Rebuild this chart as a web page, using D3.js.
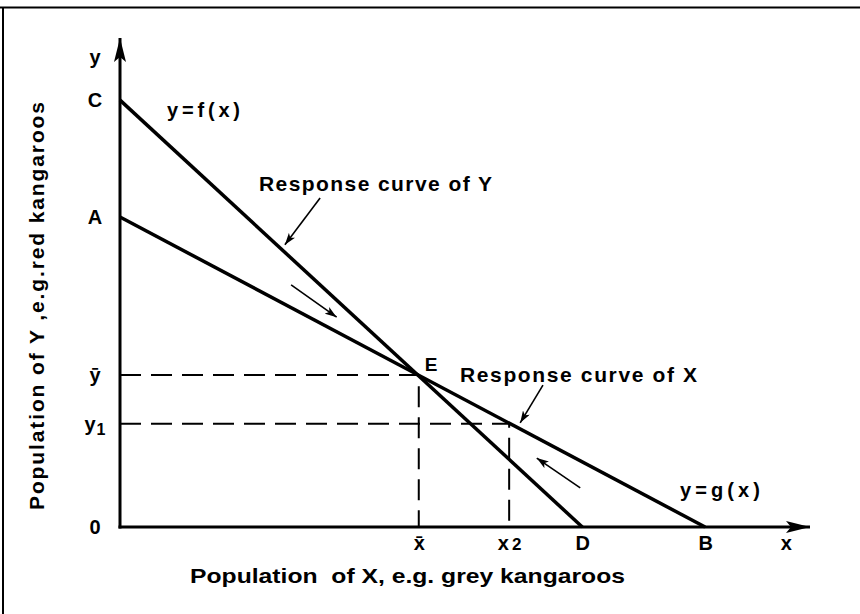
<!DOCTYPE html>
<html>
<head>
<meta charset="utf-8">
<script src="https://cdn.jsdelivr.net/npm/d3@7"></script>
<style>
  html, body { margin: 0; padding: 0; background: #fff; }
  svg { display: block; }
  text { font-family: "Liberation Sans", Arial, Helvetica, sans-serif; font-weight: bold; fill: #000; }
</style>
</head>
<body>
<svg id="chart" width="860" height="614"></svg>
<script>
// Axis extents, in arbitrary population units
const xMax = 100;
const yMax = 100;

// Response curves: y-intercept (C, A) and x-intercept (D, B)
const curveNames = ["Response curve of Y", "Response curve of X"];
const curveY0 = [87.3, 63.4];
const curveX0 = [67.0, 84.8];

// Equilibrium E and the displaced state (x2, y1)
const equilibrium = [43.3, 31.1];
const displaced = [56.4, 21.1];

// Tick labels along each axis (last entry is the axis name)
const xTickValues = [43.3, 56.4, 67.0, 84.8, 96.5];
const xTickLabels = ["x\u0304", "x2", "D", "B", "x"];
const yTickValues = [96.1, 87.3, 63.4, 31.1, 21.1, 0];
const yTickLabels = ["y", "C", "A", "y\u0304", "y1", "0"];

// Pointers from the curve names to their lines
const pointerFrom = [[29.0, 67.3], [61.3, 29.0]];
const pointerTo   = [[23.9, 57.7], [58.0, 21.3]];

// Arrows showing the direction of movement towards E
const flowFrom = [[24.8, 49.5], [66.7, 8.0]];
const flowTo   = [[31.4, 42.9], [60.4, 14.1]];

const svg = d3.select("#chart");
const x = d3.scaleLinear().domain([0, xMax]).range([120, 810]);
const y = d3.scaleLinear().domain([0, yMax]).range([527, 38]);

// Arrowhead markers
const defs = svg.append("defs");
defs.append("marker")
  .attr("id", "axisHead")
  .attr("viewBox", "0 0 24 12")
  .attr("refX", 24).attr("refY", 6)
  .attr("markerWidth", 24).attr("markerHeight", 12)
  .attr("markerUnits", "userSpaceOnUse")
  .attr("orient", "auto")
  .append("path").attr("d", "M0,0 L24,6 L0,12 L5,6 Z").attr("fill", "#000");
defs.append("marker")
  .attr("id", "smallHead")
  .attr("viewBox", "0 0 12 8")
  .attr("refX", 12).attr("refY", 4)
  .attr("markerWidth", 12).attr("markerHeight", 8)
  .attr("markerUnits", "userSpaceOnUse")
  .attr("orient", "auto")
  .append("path").attr("d", "M0,0 L12,4 L0,8 L3,4 Z").attr("fill", "#000");

// Frame (top and left edges)
svg.append("line").attr("x1", 0).attr("x2", 860).attr("y1", 7.5).attr("y2", 7.5)
  .attr("stroke", "#000").attr("stroke-width", 2);
svg.append("line").attr("x1", 3).attr("x2", 3).attr("y1", 7).attr("y2", 614)
  .attr("stroke", "#000").attr("stroke-width", 2);

// Dashed guides from E and from the displaced state
const guides = [
  [[0, equilibrium[1]], equilibrium, [equilibrium[0], 0]],
  [[0, displaced[1]], displaced, [displaced[0], 0]]
];
const guideLine = d3.line().x(d => x(d[0])).y(d => y(d[1]));
svg.append("g").selectAll("path").data(guides).join("path")
  .attr("d", guideLine)
  .attr("fill", "none").attr("stroke", "#000")
  .attr("stroke-width", 2).attr("stroke-dasharray", "21,10");

// Response curves
svg.append("g").selectAll("line").data(curveY0).join("line")
  .attr("x1", x(0)).attr("y1", (d) => y(d))
  .attr("x2", (d, i) => x(curveX0[i])).attr("y2", y(0))
  .attr("stroke", "#000").attr("stroke-width", 3.5);

// Axes with arrowheads
svg.append("line")
  .attr("x1", x(0) - 1.5).attr("y1", y(0)).attr("x2", x(xMax)).attr("y2", y(0))
  .attr("stroke", "#000").attr("stroke-width", 3).attr("marker-end", "url(#axisHead)");
svg.append("line")
  .attr("x1", x(0)).attr("y1", y(0) + 1.5).attr("x2", x(0)).attr("y2", y(yMax))
  .attr("stroke", "#000").attr("stroke-width", 3).attr("marker-end", "url(#axisHead)");

// Tick labels
function subscriptLabel(sel) {
  sel.each(function () {
    const t = d3.select(this);
    const s = t.text();
    if (/^[xy][12]$/.test(s)) {
      t.text(s[0]);
      t.append("tspan").attr("font-size", s[0] === "x" ? 17 : 16)
        .attr("dx", s[0] === "x" ? 3 : 1).attr("dy", s[0] === "x" ? 0 : 4).text(s[1]);
    }
  });
}
const xAxis = svg.append("g").attr("transform", `translate(0,${y(0)})`)
  .call(d3.axisBottom(x).tickValues(xTickValues)
    .tickFormat((d, i) => xTickLabels[i]).tickSize(0).tickPadding(9));
xAxis.select(".domain").remove();
xAxis.selectAll("text").attr("font-size", 20).attr("font-family", null).call(subscriptLabel);

const yAxis = svg.append("g").attr("transform", `translate(${x(0)},0)`)
  .call(d3.axisLeft(y).tickValues(yTickValues)
    .tickFormat((d, i) => yTickLabels[i]).tickSize(0));
yAxis.select(".domain").remove();
yAxis.selectAll("text").attr("font-size", 20).attr("font-family", null)
  .attr("text-anchor", "middle").attr("x", -25).call(subscriptLabel);
svg.selectAll(".tick text").attr("fill", "#000");

// Pointers and flow arrows
const arrows = [
  ...pointerFrom.map((p, i) => [p, pointerTo[i]]),
  ...flowFrom.map((p, i) => [p, flowTo[i]])
];
svg.append("g").selectAll("line").data(arrows).join("line")
  .attr("x1", d => x(d[0][0])).attr("y1", d => y(d[0][1]))
  .attr("x2", d => x(d[1][0])).attr("y2", d => y(d[1][1]))
  .attr("stroke", "#000").attr("stroke-width", 1.6)
  .attr("marker-end", "url(#smallHead)");

// Curve names, equations and the equilibrium label
const labels = [
  { text: curveNames[0], x: 259, y: 191, size: 21, len: 233 },
  { text: curveNames[1], x: 460, y: 382, size: 21, len: 237 },
  { text: "y=f(x)", x: 167, y: 117, size: 20, len: 73 },
  { text: "y=g(x)", x: 680, y: 497, size: 20, len: 80 },
  { text: "E", x: x(equilibrium[0]) + 6, y: y(equilibrium[1]) - 4, size: 19, len: null }
];
svg.append("g").selectAll("text").data(labels).join("text")
  .attr("x", d => d.x).attr("y", d => d.y)
  .attr("font-size", d => d.size)
  .attr("textLength", d => d.len)
  .attr("lengthAdjust", "spacing")
  .text(d => d.text);

// Axis titles
svg.append("text")
  .attr("x", 190).attr("y", 583)
  .attr("font-size", 21)
  .style("font-family", '"Liberation Sans Narrow", "Liberation Sans", Arial, sans-serif')
  .style("white-space", "pre")
  .attr("textLength", 435).attr("lengthAdjust", "spacingAndGlyphs")
  .text("Population  of X, e.g. grey kangaroos");
svg.append("text")
  .attr("transform", "translate(44,306) rotate(-90)")
  .attr("text-anchor", "middle")
  .attr("font-size", 21)
  .attr("textLength", 408).attr("lengthAdjust", "spacing")
  .text("Population of Y ,e.g.red kangaroos");
</script>
</body>
</html>
